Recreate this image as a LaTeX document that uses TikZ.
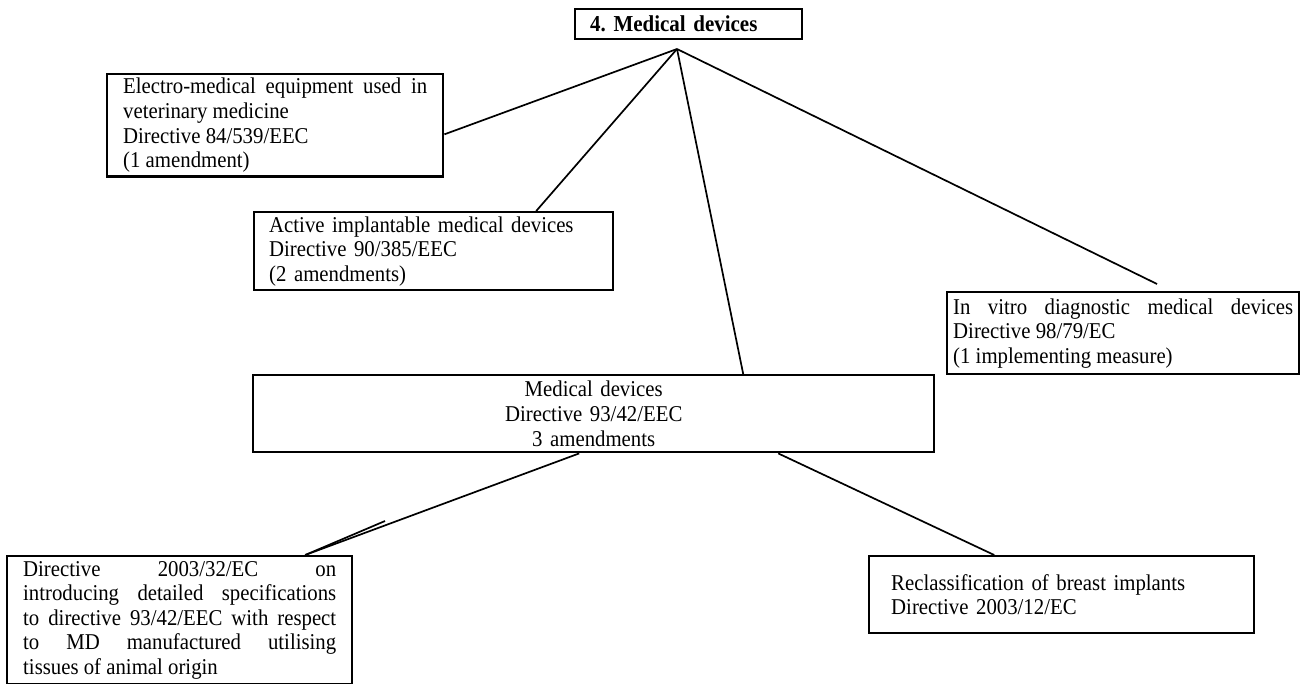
\documentclass[tikz,border=0pt]{standalone}
\usepackage{fontspec}
\setmainfont{Liberation Serif}[FakeStretch=0.92]
\usepackage{tikz}
\frenchspacing
\tikzset{
  dirbox/.style = {draw, line width=1.2pt, anchor=north west, inner ysep=2pt, font=\fontsize{11.3}{12.3}\selectfont},
  link/.style = {line width=0.85pt}
}
\begin{document}
\begin{tikzpicture}[x=0.5pt, y=-0.5pt]
        \useasboundingbox (0,0) rectangle (1304,684);
        \node[dirbox, font=\fontsize{11.4}{12}\selectfont\bfseries, text width=98.5pt, inner xsep=7.5pt, minimum height=15pt, align=left] (title) at (574,8) {4. Medical devices};
        \node[dirbox, text width=152pt, inner xsep=8pt, minimum height=51pt, align=justify] (emv) at (106,73) {Electro-medical equipment used in\linebreak veterinary medicine\\ Directive 84/539/EEC\\ (1 amendment)};
        \node[dirbox, text width=164.5pt, inner xsep=7.5pt, minimum height=39pt, align=left] (aimd) at (253,211) {Active implantable medical devices\\ Directive 90/385/EEC\\ (2 amendments)};
        \node[dirbox, text width=170pt, inner xsep=3pt, minimum height=41pt, align=justify] (ivd) at (946,291) {In vitro diagnostic medical devices\linebreak Directive 98/79/EC\\ (1 implementing measure)};
        \node[dirbox, text width=330pt, inner xsep=5.25pt, minimum height=38.5pt, align=center] (md) at (252,374) {Medical devices\\ Directive 93/42/EEC\\ 3 amendments};
        \node[dirbox, text width=156.5pt, inner xsep=8pt, minimum height=64pt, align=justify] (spec) at (6,555) {Directive 2003/32/EC on\linebreak introducing detailed specifications\linebreak to directive 93/42/EEC with respect\linebreak to MD manufactured utilising\linebreak tissues of animal origin};
        \node[dirbox, text width=170.5pt, inner xsep=11pt, minimum height=38.5pt, align=left] (bi) at (868,555) {Reclassification of breast implants\\ Directive 2003/12/EC};
        \coordinate (apex) at (677,49);
        \coordinate (ivdtip) at (1157,284);
        \coordinate (kink) at (385,521);
        \draw[link] (apex) -- ([yshift=-4.5pt]emv.east);
        \draw[link] (apex) -- ([xshift=51.25pt]aimd.north);
        \draw[link] (apex) -- ([xshift=74.75pt]md.north);
        \draw[link] (apex) -- (ivdtip);
        \draw[link] ([xshift=-7.25pt]md.south) -- ([xshift=62.75pt]spec.north);
        \draw[link] ([xshift=62.75pt]spec.north) -- (kink);
        \draw[link] ([xshift=92.25pt]md.south) -- ([xshift=-33.75pt]bi.north);
\end{tikzpicture}
\end{document}
